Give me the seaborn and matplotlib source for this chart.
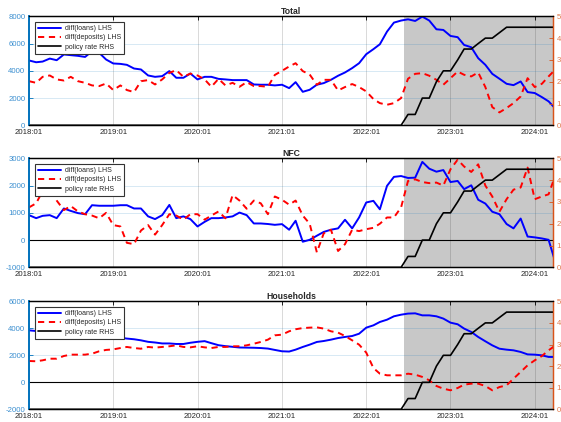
import matplotlib
matplotlib.use("Agg")
import matplotlib.pyplot as plt
import matplotlib.dates as mdates
from matplotlib.lines import Line2D
import seaborn as sns
import pandas as pd

# monthly data, 2018:01 .. 2024:04 (last month is cut by the x limit)
months = pd.date_range("2018-01-01", periods=76, freq="MS")
x_end = pd.Timestamp("2024-03-20")
shade_start = pd.Timestamp("2022-06-13")

total_loans = [4760, 4630, 4680, 4900, 4780, 5200, 5150, 5100, 5020, 5440, 5320, 4830,
               4540, 4510, 4440, 4170, 4100, 3660, 3560, 3610, 3980, 3490, 3490, 3800,
               3370, 3560, 3560, 3410, 3370, 3320, 3320, 3320, 3000, 2980, 2980, 2930,
               2980, 2730, 3170, 2460, 2610, 2980, 3100, 3340, 3640, 3880, 4200, 4560,
               5220, 5590, 5950, 6880, 7540, 7690, 7780, 7660, 7980, 7690, 7050, 7000,
               6560, 6470, 5900, 5730, 4930, 4440, 3780, 3420, 3050, 2950, 3220, 2440,
               2370, 2070, 1760, 1200]
total_deposits = [3240, 3120, 3560, 3660, 3370, 3290, 3560, 3240, 3120, 2930, 2880, 3070,
                  2590, 2930, 2590, 2440, 3240, 3320, 3000, 3370, 3850, 4050, 3560, 3800,
                  3660, 3370, 2830, 3410, 2930, 3120, 2830, 3170, 2880, 2880, 2830, 3700,
                  4000, 4320, 4560, 3980, 3730, 2980, 3340, 3340, 2560, 2810, 3030, 2810,
                  2490, 1930, 1630, 1510, 1630, 2000, 3420, 3780, 3830, 3640, 3340, 2980,
                  3460, 3950, 3710, 3590, 3880, 2810, 1340, 950, 1270, 1630, 2120, 3460,
                  2810, 3050, 3590, 4130]

nfc_loans = [915, 805, 890, 915, 805, 1160, 1070, 990, 950, 1280, 1260, 1260,
             1260, 1280, 1280, 1160, 1160, 870, 770, 915, 1290, 805, 870, 770,
             500, 670, 805, 805, 830, 870, 1010, 915, 610, 610, 590, 560,
             585, 380, 710, -60, 10, 160, 300, 380, 430, 745, 430, 830,
             1380, 1440, 1130, 1990, 2320, 2350, 2280, 2290, 2870, 2620, 2510, 2570,
             2130, 2170, 1870, 2010, 1480, 1340, 1040, 950, 590, 430, 790, 130,
             100, 60, 10, -860]
nfc_deposits = [1200, 1350, 1800, 1900, 1450, 1100, 1250, 1050, 950, 900, 800, 1000,
                550, 500, -100, -150, 350, 550, 200, 550, 950, 900, 750, 950,
                950, 750, 900, 1050, 800, 1650, 1450, 1150, 1450, 1350, 950, 1600,
                1480, 1300, 1450, 900, 600, -450, 250, 380, -400, -150, 380, 330,
                400, 450, 600, 830, 830, 1200, 2170, 2230, 2130, 2090, 2110, 2000,
                2600, 2950, 2700, 2500, 2780, 2000, 1600, 1040, 1500, 1850, 1930, 2660,
                1500, 1600, 1680, 2415]

hh_loans = [3850, 3800, 3760, 3720, 3680, 3640, 3600, 3560, 3520, 3480, 3440, 3400,
            3360, 3300, 3240, 3190, 3110, 3000, 2950, 2880, 2880, 2840, 2840, 2930,
            3000, 3050, 2900, 2750, 2680, 2630, 2580, 2570, 2560, 2540, 2500, 2400,
            2300, 2280, 2420, 2620, 2790, 2990, 3060, 3160, 3280, 3360, 3430, 3600,
            4050, 4220, 4470, 4640, 4890, 5010, 5090, 5110, 4960, 4960, 4890, 4720,
            4420, 4300, 3980, 3730, 3360, 3040, 2740, 2490, 2420, 2370, 2250, 2070,
            2050, 2000, 1880, 1880]
hh_deposits = [1580, 1560, 1630, 1750, 1750, 1950, 2050, 2050, 2050, 2120, 2300, 2400,
               2440, 2540, 2620, 2540, 2490, 2620, 2570, 2620, 2670, 2740, 2620, 2590,
               2670, 2590, 2540, 2620, 2620, 2670, 2670, 2740, 2860, 2990, 3160, 3480,
               3530, 3780, 3930, 4020, 4050, 4070, 3980, 3780, 3680, 3430, 3110, 2790,
               2200, 1060, 640, 520, 520, 520, 640, 570, 400, 150, -270, -470,
               -590, -420, -170, -100, -100, -270, -590, -350, -220, 270, 770, 1260,
               1630, 1950, 2370, 2750]

policy_rate = [0.0] * 54 + [0.5, 0.5, 1.25, 1.25, 2.0, 2.5, 2.5, 3.0, 3.5, 3.5,
                            3.75, 4.0, 4.0, 4.25, 4.5, 4.5, 4.5, 4.5, 4.5, 4.5, 4.5, 4.5]

titles = ["Total", "NFC", "Households"]
loans = [total_loans, nfc_loans, hh_loans]
deposits = [total_deposits, nfc_deposits, hh_deposits]
lhs_ticks = [[0, 2000, 4000, 6000, 8000],
             [-1000, 0, 1000, 2000, 3000],
             [-2000, 0, 2000, 4000, 6000]]
rhs_ticks = [0, 1, 2, 3, 4, 5]
legend_labels = ["diff(loans) LHS", "diff(deposits) LHS", "policy rate RHS"]

BLUE_AX = "#0072BD"
BLUE_LBL = "#3b8fd0"
ORANGE_AX = "#D95319"
ORANGE_LBL = "#e0784a"

sns.set_style("white")
plt.rcParams["font.family"] = ["Liberation Sans", "DejaVu Sans"]
plt.rcParams["axes.unicode_minus"] = False

fig = plt.figure(figsize=(5.61, 4.22), dpi=100)
boxes = [[0.0517, 0.7030, 0.934, 0.2583],
         [0.0517, 0.3665, 0.934, 0.2583],
         [0.0517, 0.0300, 0.934, 0.2560]]

for i in range(3):
    ax = fig.add_axes(boxes[i])
    ax2 = ax.twinx()

    ax.axvspan(shade_start, x_end, color="#c8c8c8", lw=0, zorder=1)
    ax.axhline(0, color="black", lw=0.8, zorder=1.8)

    sns.lineplot(x=months, y=loans[i], ax=ax, color="blue", lw=1.4, zorder=3)
    sns.lineplot(x=months, y=deposits[i], ax=ax, color="red", lw=1.4, zorder=3)
    ax.lines[-1].set_dashes((3.2, 2.4))
    sns.lineplot(x=months, y=policy_rate, ax=ax2, color="black", lw=1.2)

    ax.set_ylim(lhs_ticks[i][0], lhs_ticks[i][-1])
    ax.set_yticks(lhs_ticks[i])
    ax2.set_ylim(0, 5)
    ax2.set_yticks(rhs_ticks)
    ax.set_xlim(months[0], x_end)

    ax.xaxis.set_major_locator(mdates.YearLocator())
    ax.xaxis.set_major_formatter(mdates.DateFormatter("%Y:%m"))

    ax.set_axisbelow("line")
    ax.grid(axis="x", color=(0.15, 0.15, 0.15), alpha=0.2, lw=0.6)
    ax.grid(axis="y", color=BLUE_AX, alpha=0.18, lw=0.6)

    ax.tick_params(axis="x", direction="in", length=3, width=0.6, labelsize=5.6,
                   pad=2.9, top=True, colors="black", labelcolor="#262626")
    ax.tick_params(axis="y", direction="in", length=3, width=0.6, labelsize=5.6,
                   pad=2.6, colors=BLUE_AX, labelcolor=BLUE_LBL, left=True, right=False)
    ax2.tick_params(axis="y", direction="in", length=3, width=0.6, labelsize=5.6,
                    pad=2.6, colors=ORANGE_AX, labelcolor=ORANGE_LBL)
    ax2.tick_params(axis="x", top=False, bottom=False)

    for a in (ax, ax2):
        a.set_xlabel("")
        a.set_ylabel("")
        a.spines["left"].set_color(BLUE_AX)
        a.spines["right"].set_color(ORANGE_AX)
        a.spines["top"].set_color("black")
        a.spines["bottom"].set_color("black")
        for s in a.spines.values():
            s.set_linewidth(0.9)
        a.spines["left"].set_linewidth(1.2)

    ax.set_title(titles[i], fontsize=6.2, fontweight="bold", pad=2)

    handles = [Line2D([], [], color="blue", lw=1.4),
               Line2D([], [], color="red", lw=1.4, dashes=(3.2, 2.4)),
               Line2D([], [], color="black", lw=1.2)]
    leg = ax2.legend(handles, legend_labels, loc="upper left", fontsize=5.0,
                     frameon=True, fancybox=False, edgecolor="#333333", framealpha=1,
                     handlelength=3.4, borderaxespad=0.85, labelspacing=0.35,
                     borderpad=0.4, handletextpad=0.6)
    leg.get_frame().set_linewidth(0.8)

fig.savefig("out.png", dpi=100)
